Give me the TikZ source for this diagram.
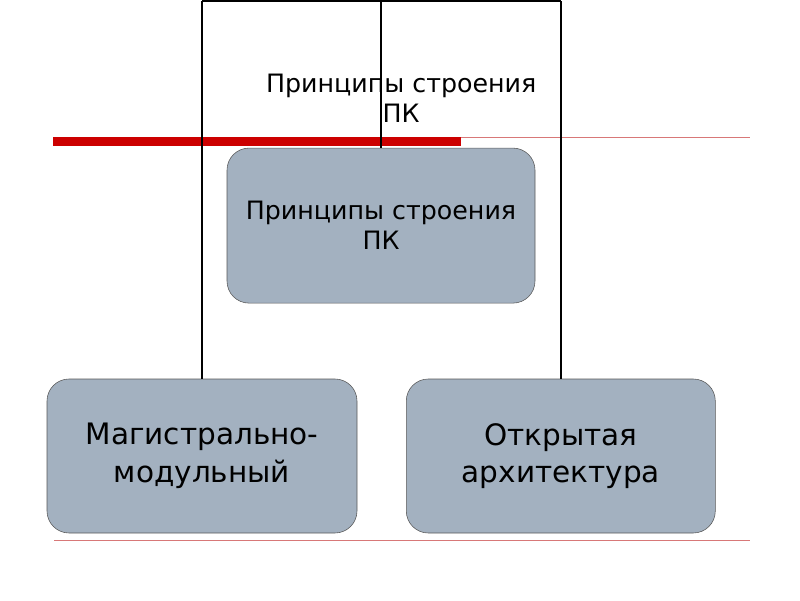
\documentclass[tikz,border=0pt]{standalone}
\usepackage{fontspec}
\setmainfont{DejaVu Sans}
\definecolor{boxgrey}{HTML}{A3B1C0}
\definecolor{barred}{HTML}{CC0000}
\definecolor{linered}{HTML}{D87878}

\begin{document}
\begin{tikzpicture}
  \tikzset{vertex/.style = {shape=rectangle,rounded corners=0.55cm,draw=black!65,fill=boxgrey,align=center,inner sep=0pt}}
  \tikzset{edge/.style = {-,line width=1.2pt}}

  \useasboundingbox (0,0) rectangle (20,15);

  % red rules
  \fill[barred] (1.325,11.35) rectangle (11.525,11.575);
  \draw[linered,line width=0.6pt] (11.525,11.56) -- (18.75,11.56);
  \draw[linered,line width=0.7pt] (1.35,1.5) -- (18.75,1.5);

	\node[align=center,font=\fontsize{18}{21.3}\selectfont] (0) at (10.03,12.55) {Принципы строения\\ПК};

	\node[vertex,minimum width=7.7cm,minimum height=3.875cm,font=\fontsize{18}{21.3}\selectfont] (1) at (9.525,9.36) {Принципы строения\\ПК};

		\node[vertex,minimum width=7.75cm,minimum height=3.85cm,font=\fontsize{21}{26.8}\selectfont] (11) at (5.05,3.6) {Магистрально-\\модульный};
		\node[vertex,minimum width=7.725cm,minimum height=3.85cm,font=\fontsize{21}{26.8}\selectfont] (12) at (14.02,3.6) {Открытая\\архитектура};

  \coordinate (top) at (0,14.97);
    \foreach \n in {1,11,12}
    \draw[edge] (\n.north) -- (\n.north |- top);
    \draw[edge] (11.north |- top) -- (12.north |- top);

\end{tikzpicture}
\end{document}
